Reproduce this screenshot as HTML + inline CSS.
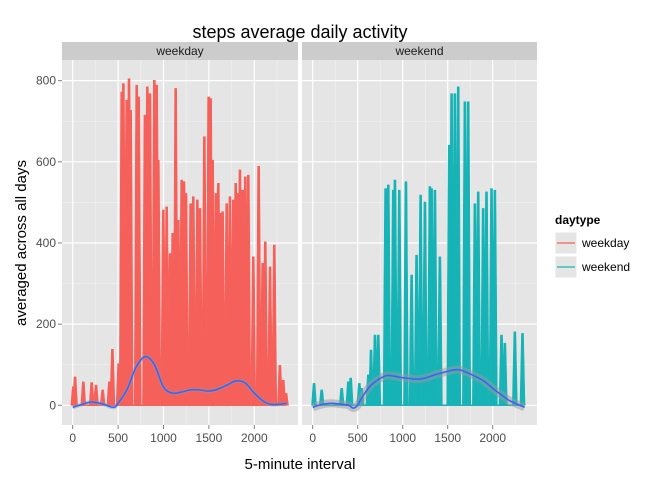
<!DOCTYPE html>
<html><head><meta charset="utf-8"><style>
body{margin:0;background:#fff;}
svg{font-family:"Liberation Sans",sans-serif;}
</style></head><body>
<svg id="c" width="672" height="480"></svg>
<script>
// weekday spikes: interval, value
const wdInterval=[7,26,117,209,257,330,404,437,506,540,558,594,620,638,705,727,796,822,851,899,925,943,998,1035,1072,1101,1134,1163,1200,1226,1248,1299,1328,1373,1402,1450,1497,1519,1541,1578,1604,1622,1651,1696,1732,1769,1795,1813,1842,1872,1901,1934,1989,2048,2092,2121,2173,2220,2282,2319,2349];
const wdValue=[46,70,58,56,50,38,58,138,103,772,793,752,805,727,789,760,715,785,768,801,789,604,481,489,374,424,781,456,555,551,522,497,514,506,485,662,760,756,604,522,547,473,477,497,514,506,547,522,580,530,563,567,366,589,350,403,341,395,99,62,30];
const weInterval=[15,100,322,396,422,518,544,618,648,692,729,810,840,895,914,962,1036,1099,1154,1199,1247,1302,1321,1358,1413,1517,1543,1580,1617,1691,1728,1802,1839,1894,1931,1987,2024,2098,2135,2246,2331];
const weValue=[54,38,42,58,67,54,42,75,136,173,173,534,543,530,555,530,551,321,370,518,501,539,534,530,366,641,768,768,785,748,748,497,526,485,526,534,530,173,153,181,177];
const wdSmoothX=[0,100,200,300,350,450,500,600,700,800,900,1000,1100,1200,1300,1400,1500,1600,1700,1800,1900,2000,2100,2200,2355];
const wdSmoothY=[-5,2,8,5,2,-5,5,40,95,120,100,45,30,33,38,38,35,40,50,60,55,30,10,2,5];
const weSmoothX=[0,100,200,300,400,450,500,550,650,800,900,1000,1200,1400,1600,1700,1800,1900,2000,2100,2200,2355];
const weSmoothY=[-5,2,5,3,0,-7,0,20,50,72,72,68,65,78,88,82,72,60,42,25,10,-5];
const yTicks=[0,200,400,600,800];
const xTicks=[0,500,1000,1500,2000];

const NS="http://www.w3.org/2000/svg",svg=document.getElementById('c');
function el(t,a,p){const e=document.createElementNS(NS,t);for(const k in a)e.setAttribute(k,a[k]);(p||svg).appendChild(e);return e;}
const yS=v=>405.3-v*0.4058;
const pTop=60,pBot=425;
const panels=[
 {x0:62,x1:298,org:72.7,k:0.0908,name:'weekday',xs:wdInterval,ys:wdValue,sx:wdSmoothX,sy:wdSmoothY,col:'#f5615a',ribbon:false},
 {x0:302,x1:537,org:312.7,k:0.0900,name:'weekend',xs:weInterval,ys:weValue,sx:weSmoothX,sy:weSmoothY,col:'#17b3b6',ribbon:true}];
let t=el('text',{x:300,y:38,'text-anchor':'middle','font-size':18,fill:'#000'});t.textContent='steps average daily activity';


panels.forEach((p,pi)=>{
 const xS=v=>p.org+v*p.k;
 const g=el('g',{});
 
 
 el('rect',{x:p.x0,y:42,width:p.x1-p.x0,height:18,fill:'#cccccc'},g);
 const st=el('text',{x:(p.x0+p.x1)/2,y:55,'text-anchor':'middle','font-size':12,fill:'#1a1a1a'},g);st.textContent=p.name;
 
 
 el('rect',{x:p.x0,y:pTop,width:p.x1-p.x0,height:pBot-pTop,fill:'#e5e5e5'},g);
 for(let v=100;v<=900;v+=200){const y=yS(v);if(y>pTop)el('line',{x1:p.x0,x2:p.x1,y1:y,y2:y,stroke:'#f2f2f2','stroke-width':0.6},g);}
 for(let v=-250;v<=2500;v+=500){const x=xS(v);if(x>p.x0&&x<p.x1)el('line',{x1:x,x2:x,y1:pTop,y2:pBot,stroke:'#f2f2f2','stroke-width':0.6},g);}
 yTicks.forEach(v=>{el('line',{x1:p.x0,x2:p.x1,y1:yS(v),y2:yS(v),stroke:'#fff','stroke-width':1.2},g);});
 xTicks.forEach(v=>{const x=xS(v);el('line',{x1:x,x2:x,y1:pTop,y2:pBot,stroke:'#fff','stroke-width':1.2},g);
   el('line',{x1:x,x2:x,y1:pBot,y2:pBot+4,stroke:'#7f7f7f'},g);
   const tx=el('text',{x:x,y:pBot+17,'text-anchor':'middle','font-size':12,fill:'#4d4d4d'},g);tx.textContent=v;
   
   });
 let d='';
 p.xs.forEach((iv,i)=>{const x=xS(iv),y=yS(p.ys[i]),b=yS(0);
   d+=`M${x-2.5},${b}L${x-1},${y}L${x+1},${y}L${x+2.5},${b}Z`;});
 const sp=el('path',{d:d,fill:p.col,stroke:p.col,'stroke-width':0.6,'stroke-linejoin':'round'},g);
 
 
 el('line',{x1:xS(p.xs[0]),x2:xS(p.xs[p.xs.length-1]),y1:yS(0),y2:yS(0),stroke:p.col,'stroke-width':1.5},g);
 const pts=p.sx.map((v,i)=>[xS(v),yS(p.sy[i])]);
 function smooth(pts){let s=`M${pts[0][0]},${pts[0][1]}`;for(let i=0;i<pts.length-1;i++){const p0=pts[i-1]||pts[i],p1=pts[i],p2=pts[i+1],p3=pts[i+2]||p2;
   s+=`C${p1[0]+(p2[0]-p0[0])/6},${p1[1]+(p2[1]-p0[1])/6} ${p2[0]-(p3[0]-p1[0])/6},${p2[1]-(p3[1]-p1[1])/6} ${p2[0]},${p2[1]}`;}return s;}
 if(p.ribbon){const r=el('path',{d:smooth(pts),fill:'none',stroke:'#999','stroke-opacity':0.5,'stroke-width':8},g);
   
   }
 else {el('path',{d:smooth(pts),fill:'none',stroke:'#999','stroke-opacity':0.4,'stroke-width':4},g);}
 const sm=el('path',{d:smooth(pts),fill:'none',stroke:'#3366ff','stroke-width':1.6},g);
 
 
 if(pi==0){yTicks.forEach(v=>{el('line',{x1:58,x2:62,y1:yS(v),y2:yS(v),stroke:'#7f7f7f'});
   const ty=el('text',{x:56,y:yS(v)+4,'text-anchor':'end','font-size':12,fill:'#4d4d4d'});ty.textContent=v;
   
   });}
});
t=el('text',{x:300,y:469,'text-anchor':'middle','font-size':15,fill:'#000'});t.textContent='5-minute interval';


t=el('text',{x:0,y:0,'text-anchor':'middle','font-size':15,fill:'#000',transform:'translate(26,243) rotate(-90)'});t.textContent='averaged across all days';


const lg=el('g',{});


t=el('text',{x:555,y:224,'font-size':12,'font-weight':'bold',fill:'#000'},lg);t.textContent='daytype';
[['weekday','#f5615a'],['weekend','#17b3b6']].forEach((e,i)=>{const y=232+i*24;
 const en=el('g',{},lg);
 
 
 el('rect',{x:555,y:y,width:22,height:22,fill:'#e5e5e5',stroke:'#fff'},en);
 el('line',{x1:557,x2:575,y1:y+11,y2:y+11,stroke:e[1],'stroke-width':1.2},en);
 const lt=el('text',{x:582,y:y+15,'font-size':12,fill:'#000'},en);lt.textContent=e[0];});
</script>
</body></html>
